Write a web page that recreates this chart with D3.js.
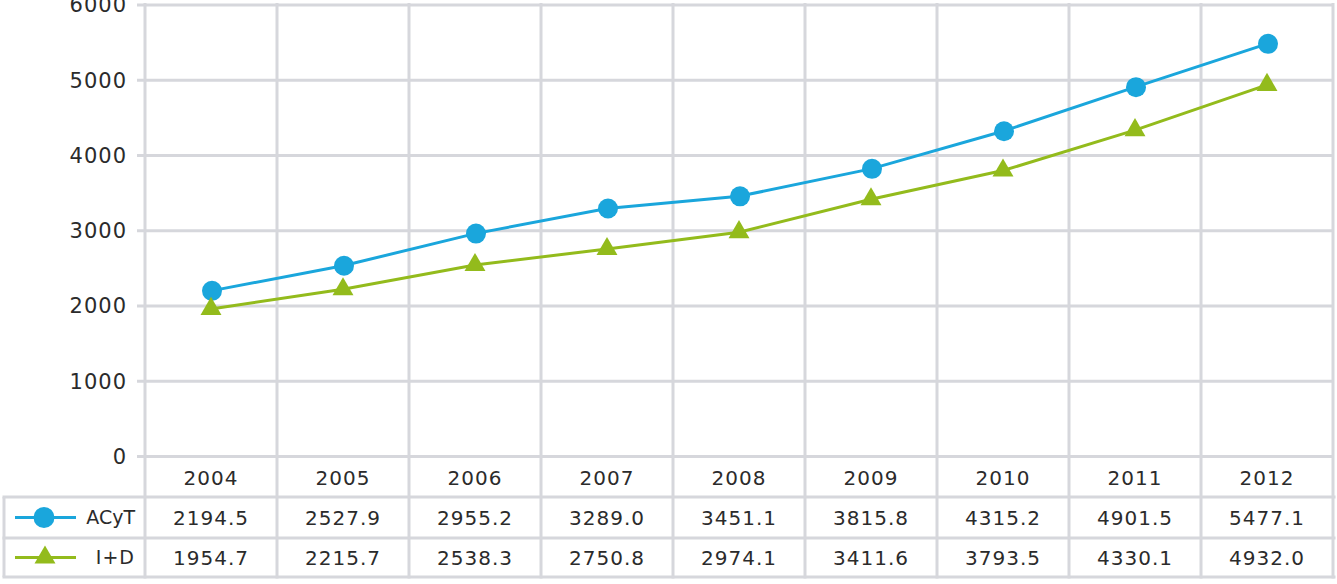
<!DOCTYPE html>
<html><head><meta charset="utf-8">
<script src="https://cdn.jsdelivr.net/npm/d3@7/dist/d3.min.js"></script>
<style>
html,body{margin:0;padding:0;background:#fff;}
svg text{font-family:"DejaVu Sans",sans-serif;fill:#2b2b2b;}
</style></head>
<body><svg id="c" width="1337" height="584"></svg>
<script>
const years = ["2004","2005","2006","2007","2008","2009","2010","2011","2012"];
const acyt = [2194.5,2527.9,2955.2,3289.0,3451.1,3815.8,4315.2,4901.5,5477.1];
const iyd = [1954.7,2215.7,2538.3,2750.8,2974.1,3411.6,3793.5,4330.1,4932.0];
const acytLabels = ["2194.5","2527.9","2955.2","3289.0","3451.1","3815.8","4315.2","4901.5","5477.1"];
const iydLabels = ["1954.7","2215.7","2538.3","2750.8","2974.1","3411.6","3793.5","4330.1","4932.0"];
const yTicks = [0,1000,2000,3000,4000,5000,6000];
const seriesNames = ["ACyT","I+D"];

const blue = "#1aa6dc", green = "#93bb1c", grid = "#d6d7dc";
const svg = d3.select("#c");
const x = d3.scaleBand().domain(years).range([145,1333]);
const y = d3.scaleLinear().domain([0,6000]).range([456,4.5]);
const tableLeft = 4, tableRight = 1334;
const rowY = [456,497,538,577];

// y axis + horizontal gridlines
const ax = svg.append("g").attr("transform","translate(137,0)")
  .call(d3.axisLeft(y).tickValues(yTicks).tickSize(-(tableRight-137)).tickPadding(10).tickFormat(d3.format("d")));
ax.select(".domain").remove();
ax.selectAll(".tick line").attr("stroke",grid).attr("stroke-width",3);
ax.selectAll(".tick text").style("font-size","21px").style("letter-spacing","1px").attr("fill","#2b2b2b").attr("dy","0.35em");

// vertical gridlines
const bounds = years.map(d=>x(d)).concat([x.range()[1]]);
svg.append("g").selectAll("line").data(bounds).join("line")
  .attr("x1",d=>d).attr("x2",d=>d).attr("y1",3).attr("y2",rowY[3]+1.5)
  .attr("stroke",grid).attr("stroke-width",3);
// table lines
svg.append("g").selectAll("line").data(rowY.slice(1)).join("line")
  .attr("x1",tableLeft-1.5).attr("x2",tableRight+1.5).attr("y1",d=>d).attr("y2",d=>d)
  .attr("stroke",grid).attr("stroke-width",3);
svg.append("line").attr("x1",tableLeft).attr("x2",tableLeft).attr("y1",rowY[1]).attr("y2",rowY[3])
  .attr("stroke",grid).attr("stroke-width",3);

// table text
const cx = d=>x(d)+x.bandwidth()/2;
const tstyle = sel=>sel.attr("text-anchor","middle").style("font-size","20px").style("letter-spacing","1px").attr("dy","0.35em");
svg.append("g").selectAll("text").data(years).join("text").attr("x",cx).attr("y",(rowY[0]+rowY[1])/2+1).text(d=>d).call(tstyle);
svg.append("g").selectAll("text").data(years).join("text").attr("x",cx).attr("y",(rowY[1]+rowY[2])/2).text((d,i)=>acytLabels[i]).call(tstyle);
svg.append("g").selectAll("text").data(years).join("text").attr("x",cx).attr("y",(rowY[2]+rowY[3])/2).text((d,i)=>iydLabels[i]).call(tstyle);

// legend
const tri = d3.symbol().type(d3.symbolTriangle).size(190);
const ly1 = (rowY[1]+rowY[2])/2, ly2 = (rowY[2]+rowY[3])/2;
svg.append("line").attr("x1",15).attr("x2",76).attr("y1",ly1).attr("y2",ly1).attr("stroke",blue).attr("stroke-width",3);
svg.append("circle").attr("cx",44).attr("cy",ly1).attr("r",10.5).attr("fill",blue);
svg.append("line").attr("x1",15).attr("x2",76).attr("y1",ly2).attr("y2",ly2).attr("stroke",green).attr("stroke-width",3);
svg.append("path").attr("d",tri).attr("transform",`translate(45,${ly2})`).attr("fill",green);
svg.append("text").attr("x",135).attr("y",ly1).attr("text-anchor","end").attr("dy","0.35em").style("font-size","19px").text(seriesNames[0]);
svg.append("text").attr("x",135).attr("y",ly2).attr("text-anchor","end").attr("dy","0.35em").style("font-size","19px").style("letter-spacing","1px").text(seriesNames[1]);

// lines
const line = d3.line().x((d,i)=>cx(years[i])).y(d=>y(d));
svg.append("path").datum(acyt).attr("d",line).attr("fill","none").attr("stroke",blue).attr("stroke-width",3);
svg.append("path").datum(iyd).attr("d",line).attr("fill","none").attr("stroke",green).attr("stroke-width",3);
svg.append("g").selectAll("circle").data(acyt).join("circle")
  .attr("cx",(d,i)=>cx(years[i])+1).attr("cy",d=>y(d)).attr("r",10).attr("fill",blue);
svg.append("g").selectAll("path").data(iyd).join("path")
  .attr("d",tri).attr("transform",(d,i)=>`translate(${cx(years[i])},${y(d)})`).attr("fill",green);
</script></body></html>
